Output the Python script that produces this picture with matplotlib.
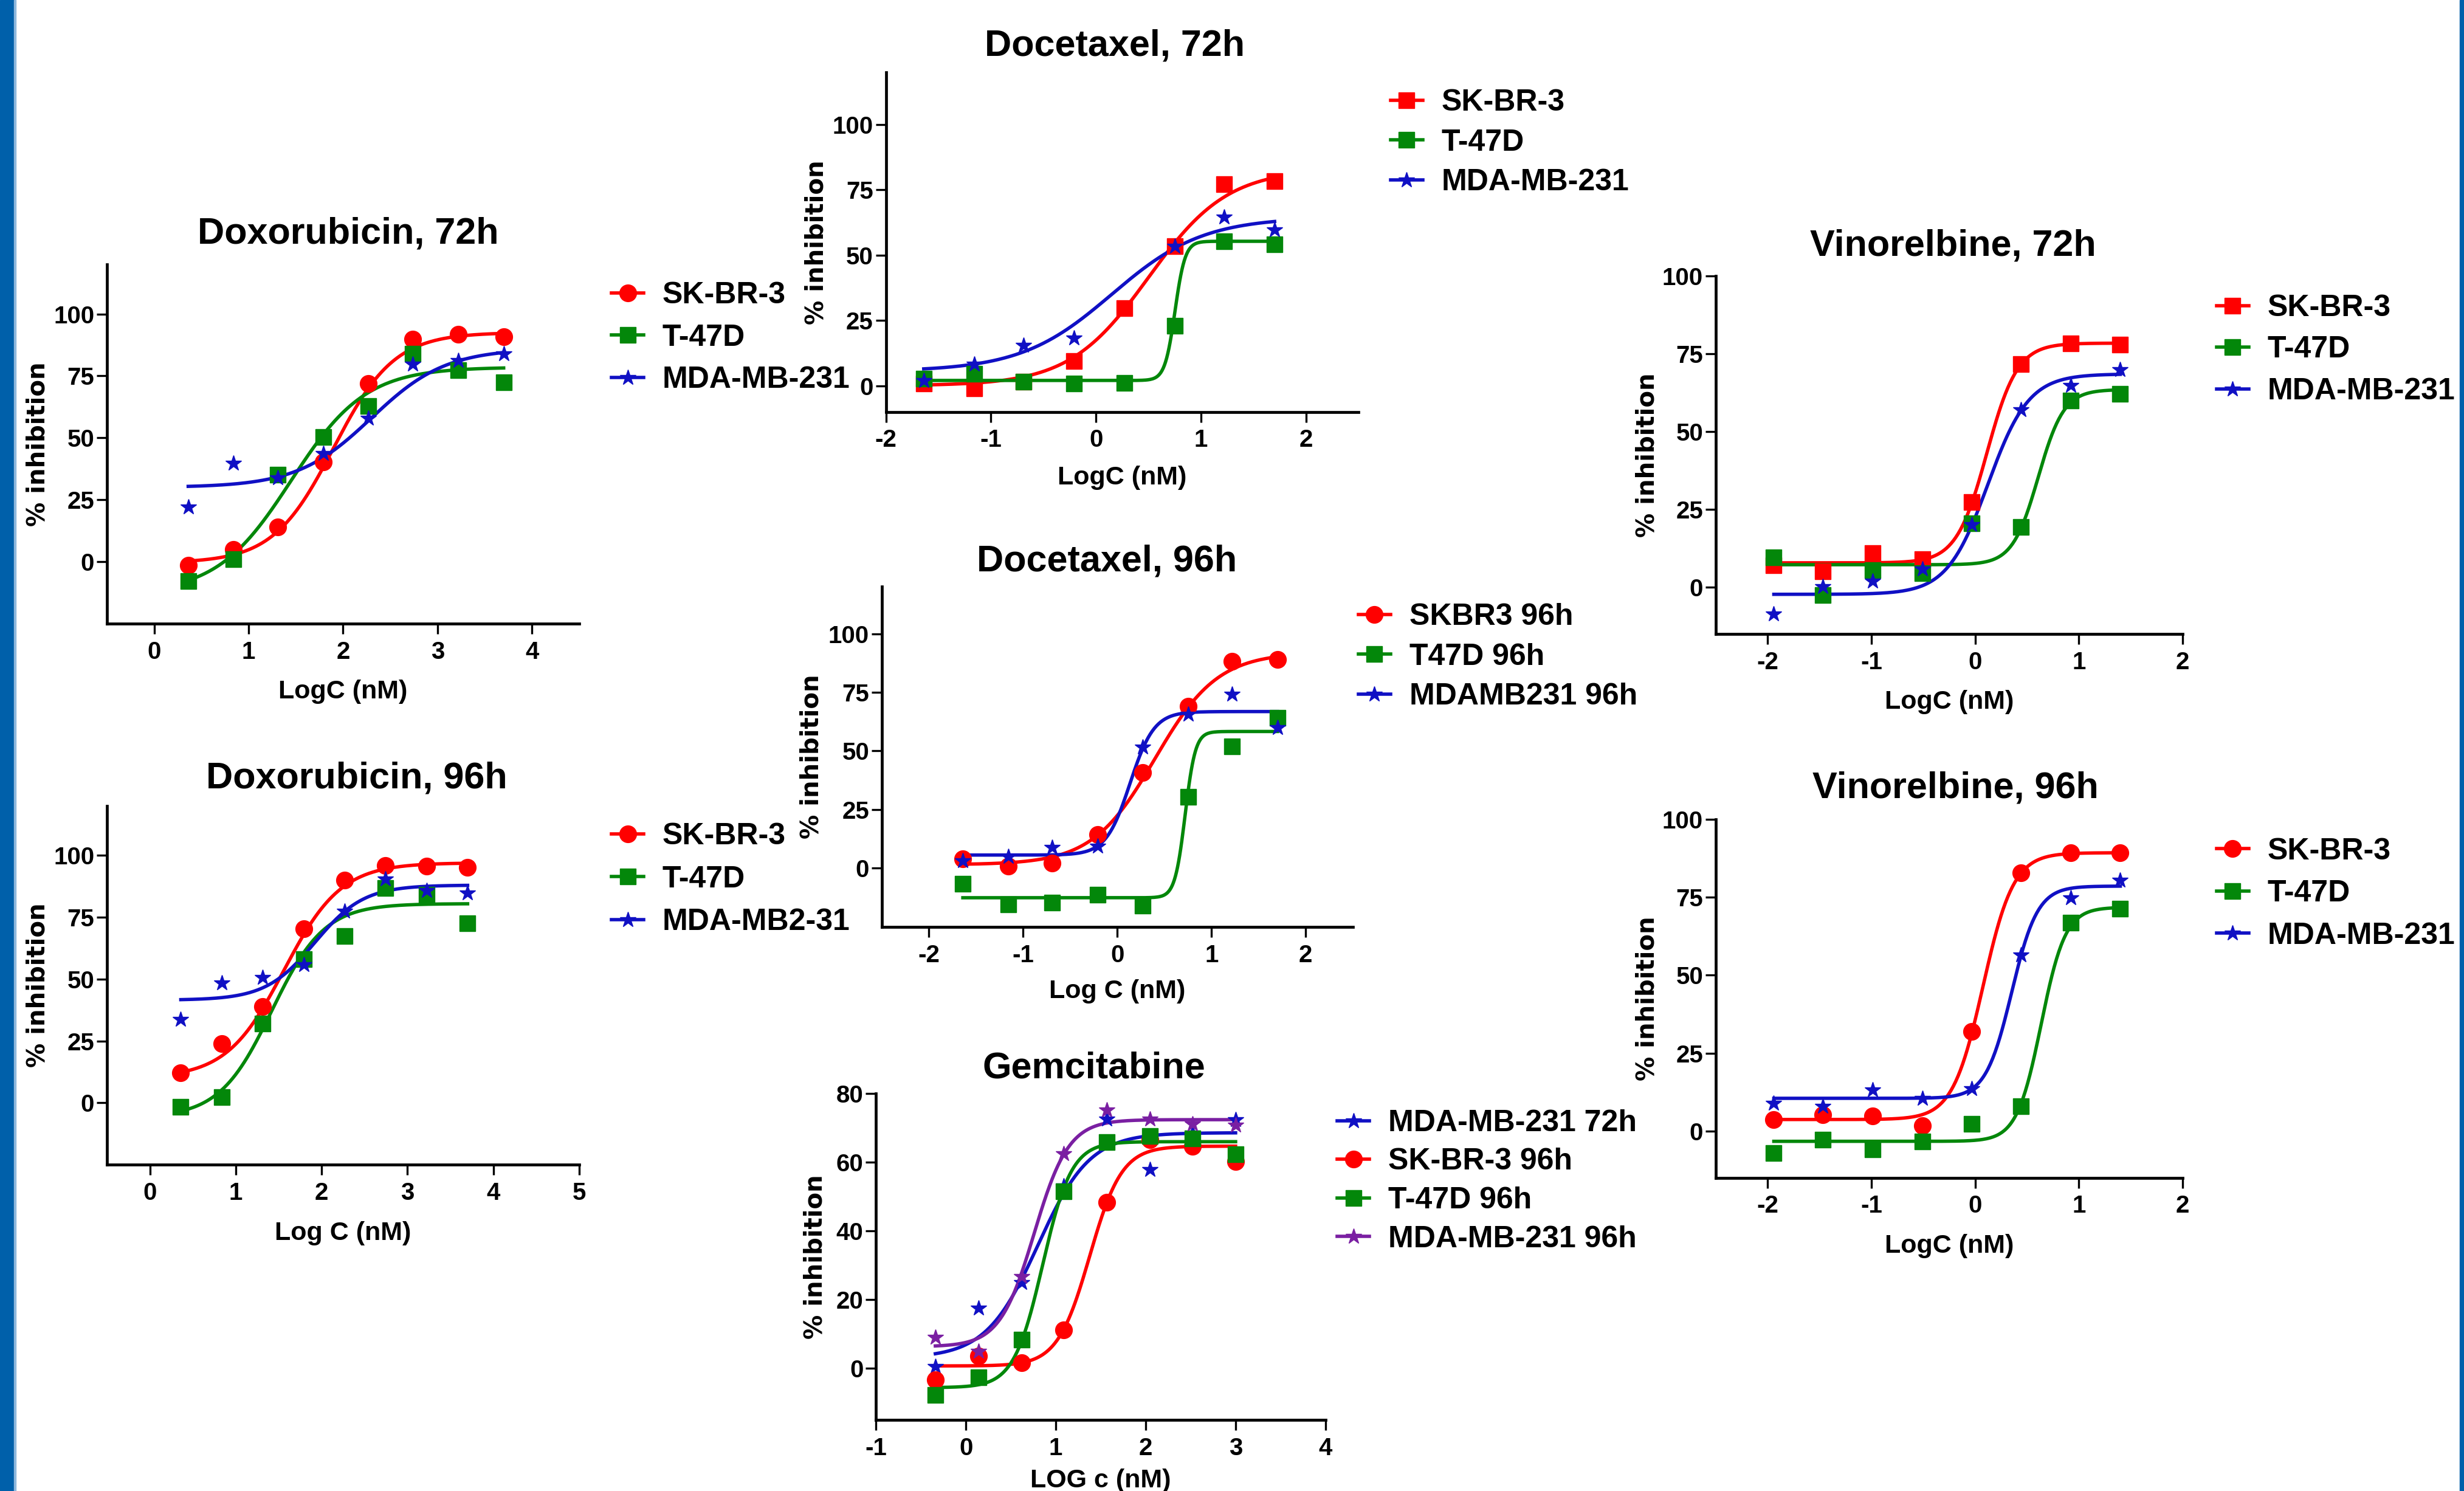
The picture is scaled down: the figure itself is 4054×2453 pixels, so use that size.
import numpy as np
import matplotlib
matplotlib.use("Agg")
import matplotlib.pyplot as plt
from matplotlib.lines import Line2D
from matplotlib.patches import Rectangle
import matplotlib.font_manager as fm

# ---------------- data ----------------
DOX_X = [0.36, 0.84, 1.31, 1.79, 2.27, 2.74, 3.22, 3.70]
DOC_X = [-1.64, -1.16, -0.69, -0.21, 0.27, 0.75, 1.22, 1.70]
GEM_X = [-0.34, 0.14, 0.62, 1.09, 1.57, 2.05, 2.52, 3.00]
VIN_X = [-1.94, -1.47, -0.99, -0.51, -0.03, 0.44, 0.92, 1.40]

dox72_sk = [-1.4, 4.9, 14.1, 40.3, 72.0, 89.7, 91.8, 90.8]
dox72_t47 = [-7.8, 1.0, 35.0, 50.4, 62.9, 84.0, 77.4, 72.5]
dox72_mda = [22.2, 39.8, 34.0, 43.8, 57.9, 79.8, 81.2, 84.0]

dox96_sk = [12.1, 23.8, 38.9, 70.4, 90.1, 96.0, 95.6, 95.3]
dox96_t47 = [-1.7, 2.3, 31.9, 58.0, 67.4, 86.9, 84.1, 72.5]
dox96_mda = [33.7, 48.5, 50.6, 55.9, 77.4, 90.4, 85.9, 84.8]

doc72_sk = [0.9, -1.0, 1.5, 9.4, 29.8, 53.4, 77.1, 78.3]
doc72_t47 = [2.8, 4.5, 1.5, 0.9, 1.1, 22.9, 55.3, 54.2]
doc72_mda = [2.1, 8.2, 15.4, 18.3, np.nan, 53.4, 64.5, 59.8]

doc96_sk = [3.9, 0.8, 2.1, 14.4, 40.7, 69.1, 88.1, 89.1]
doc96_t47 = [-6.6, -15.4, -14.6, -11.2, -16.0, 30.3, 52.0, 64.2]
doc96_mda = [3.2, 5.0, 8.8, 9.5, 51.6, 65.6, 74.1, 60.0]

gem_mda72 = [0.6, 17.5, 24.9, 53.0, 72.5, 57.8, 68.4, 72.3]
gem_sk96 = [-3.4, 3.6, 1.6, 11.1, 48.2, 66.5, 64.6, 60.1]
gem_t47_96 = [-7.7, -2.7, 8.4, 51.4, 65.7, 67.5, 66.8, 62.2]
gem_mda96 = [9.1, 5.0, 26.7, 62.5, 75.2, 72.5, 71.1, 70.7]

vin72_sk = [7.1, 5.1, 11.0, 9.1, 27.5, 71.7, 78.4, 77.9]
vin72_t47 = [9.6, -2.5, 5.6, 4.5, 20.6, 19.4, 59.9, 62.1]
vin72_mda = [-8.4, 0.3, 2.0, 6.0, 20.2, 57.1, 64.9, 70.0]

vin96_sk = [3.7, 5.2, 4.8, 1.8, 31.9, 82.9, 89.3, 89.3]
vin96_t47 = [-7.0, -2.8, -5.9, -3.4, 2.3, 7.9, 66.8, 71.3]
vin96_mda = [9.0, 8.0, 13.3, 10.5, 13.6, 56.6, 74.9, 80.5]

# fitted curve parameters [bottom, top, logEC50, hill]
fit_dox72 = {"sk": [-0.5, 92.5, 1.90, 1.35], "t47": [-13.0, 78.5, 1.45, 1.10], "mda": [30.0, 86.0, 2.30, 1.10]}
fit_dox96 = {"sk": [10.0, 97.0, 1.56, 1.30], "t47": [-6.0, 80.5, 1.42, 1.42], "mda": [41.5, 88.0, 1.92, 1.52]}
fit_doc72 = {"sk": [0.0, 83.0, 0.50, 1.15], "t47": [2.0, 55.3, 0.752, 9.0], "mda": [5.5, 64.5, 0.15, 1.0]}
fit_doc96 = {"sk": [1.5, 92.0, 0.40, 1.30], "t47": [-12.6, 58.3, 0.72, 8.0], "mda": [5.6, 66.8, 0.135, 3.4]}
fit_gem = {"mda72": [3.0, 68.5, 0.80, 1.5], "sk96": [0.7, 64.6, 1.377, 2.42],
           "t47_96": [-5.6, 65.9, 0.854, 2.7], "mda96": [6.3, 72.3, 0.76, 2.26]}
fit_vin72 = {"sk": [7.9, 78.4, 0.114, 2.94], "t47": [7.3, 63.5, 0.609, 3.5], "mda": [-2.2, 68.5, 0.124, 2.2]}
fit_vin96 = {"sk": [3.7, 89.3, 0.077, 2.95], "t47": [-3.3, 71.8, 0.637, 3.7], "mda": [10.5, 78.6, 0.353, 3.47]}

# ---------------- style ----------------
avail = {f.name for f in fm.fontManager.ttflist}
SANS = "Liberation Sans" if "Liberation Sans" in avail else "DejaVu Sans"
plt.rcParams["font.family"] = [SANS, "DejaVu Sans"]
plt.rcParams["font.weight"] = "bold"
plt.rcParams["axes.unicode_minus"] = False

RED = "#FF0000"
GREEN = "#03870A"
BLUE = "#1010C4"
PURPLE = "#7A1FA2"
MS = {"o": 20, "s": 19, "*": 19}
LW = 4.0

W, H, DPI = 4055, 2453, 100
fig = plt.figure(figsize=(W / DPI, H / DPI), dpi=DPI)
fig.patch.set_facecolor("white")
fig.patches.append(Rectangle((0, 0), 23 / W, 1, transform=fig.transFigure, color="#0060AA", zorder=0))
fig.patches.append(Rectangle((23 / W, 0), 3 / W, 1, transform=fig.transFigure, color="#8FB8DD", zorder=0))
fig.patches.append(Rectangle((4047 / W, 0), 8 / W, 1, transform=fig.transFigure, color="#0060AA", zorder=0))


def logistic(x, p):
    b, t, e, h = p
    return b + (t - b) / (1 + 10 ** ((e - x) * h))


def panel(rect, xlim, ylim, xticks, yticks, title, title_xy, xlabel, series,
          leg_xy, leg_pitch, ylab_off, xlab_off):
    l, r, t, b = rect
    ax = fig.add_axes([l / W, 1 - b / H, (r - l) / W, (b - t) / H])
    wpx, hpx = r - l, b - t
    for lab, col, mk, xs, ys, p in series:
        xs = np.asarray(xs, float)
        xx = np.linspace(xs.min(), xs.max(), 300)
        ax.plot(xx, logistic(xx, p), color=col, lw=LW, zorder=2, clip_on=False)
        ax.plot(xs, ys, ls="none", marker=mk, ms=MS[mk], color=col, mec=col, zorder=3, clip_on=False)
    ax.set_xlim(*xlim)
    ax.set_ylim(*ylim)
    ax.set_xticks(xticks)
    ax.set_yticks(yticks)
    ax.set_xticklabels([str(v) for v in xticks])
    ax.set_yticklabels([str(v) for v in yticks])
    for s in ["top", "right"]:
        ax.spines[s].set_visible(False)
    for s in ["left", "bottom"]:
        ax.spines[s].set_linewidth(3.4)
    ax.tick_params(axis="both", length=12, width=2.4, labelsize=29)
    ax.tick_params(axis="x", pad=8)
    ax.tick_params(axis="y", pad=3)
    for lbl in ax.get_xticklabels() + ax.get_yticklabels():
        lbl.set_fontweight("bold")
    ax.set_facecolor("none")
    # title
    tx, ty = title_xy
    ax.text((tx - l) / wpx, (b - (ty + 21)) / hpx, title, transform=ax.transAxes,
            ha="center", va="baseline", fontsize=44, fontweight="bold")
    # labels
    ax.set_xlabel(xlabel, fontsize=31, fontweight="bold")
    ax.xaxis.label.set_va("center")
    ax.xaxis.set_label_coords(0.5, -xlab_off / hpx)
    ax.set_ylabel("% inhibition", fontsize=29, fontweight="bold", family="DejaVu Sans")
    ax.yaxis.label.set_va("center")
    ax.yaxis.set_label_coords(-ylab_off / wpx, 0.5)
    # legend
    handles = [Line2D([], [], color=c, lw=LW, marker=m, ms=MS[m], mec=c) for _, c, m, _, _, _ in series]
    labels = [s[0] for s in series]
    F = 50.0
    lx, ly = leg_xy
    ls = (leg_pitch - 0.89 * F) / F
    ax.legend(handles, labels, loc="upper left",
              bbox_to_anchor=(lx / W, 1 - (ly - 17) / H), bbox_transform=fig.transFigure,
              frameon=False, borderpad=0, borderaxespad=0, handlelength=1.06,
              handletextpad=0.62, labelspacing=ls, numpoints=1,
              prop={"family": SANS, "weight": "bold", "size": 36})
    return ax


panel((176, 953, 435, 1026), (-0.5, 4.5), (-25, 120), [0, 1, 2, 3, 4], [0, 25, 50, 75, 100],
      "Doxorubicin, 72h", (573, 380), "LogC (nM)",
      [("SK-BR-3", RED, "o", DOX_X, dox72_sk, fit_dox72["sk"]),
       ("T-47D", GREEN, "s", DOX_X, dox72_t47, fit_dox72["t47"]),
       ("MDA-MB-231", BLUE, "*", DOX_X, dox72_mda, fit_dox72["mda"])],
      (1006, 480), 68, 113, 112)

panel((176, 953, 1326, 1916), (-0.5, 5), (-25, 120), [0, 1, 2, 3, 4, 5], [0, 25, 50, 75, 100],
      "Doxorubicin, 96h", (587, 1275), "Log C (nM)",
      [("SK-BR-3", RED, "o", DOX_X, dox96_sk, fit_dox96["sk"]),
       ("T-47D", GREEN, "s", DOX_X, dox96_t47, fit_dox96["t47"]),
       ("MDA-MB2-31", BLUE, "*", DOX_X, dox96_mda, fit_dox96["mda"])],
      (1006, 1370), 69, 113, 113)

panel((1457.6, 2235.4, 119, 677.5), (-2, 2.5), (-10, 120), [-2, -1, 0, 1, 2], [0, 25, 50, 75, 100],
      "Docetaxel, 72h", (1834, 70.5), "LogC (nM)",
      [("SK-BR-3", RED, "s", DOC_X, doc72_sk, fit_doc72["sk"]),
       ("T-47D", GREEN, "s", DOC_X, doc72_t47, fit_doc72["t47"]),
       ("MDA-MB-231", BLUE, "*", DOC_X, doc72_mda, fit_doc72["mda"])],
      (2288, 163), 64, 114, 108)

panel((1450.9, 2225.8, 965.4, 1524.8), (-2.5, 2.5), (-25, 120), [-2, -1, 0, 1, 2], [0, 25, 50, 75, 100],
      "Docetaxel, 96h", (1821, 918), "Log C (nM)",
      [("SKBR3 96h", RED, "o", DOC_X, doc96_sk, fit_doc96["sk"]),
       ("T47D 96h", GREEN, "s", DOC_X, doc96_t47, fit_doc96["t47"]),
       ("MDAMB231 96h", BLUE, "*", DOC_X, doc96_mda, fit_doc96["mda"])],
      (2235, 1009), 64, 115, 106)

panel((1441.3, 2180.8, 1798.5, 2336.1), (-1, 4), (-15, 80), [-1, 0, 1, 2, 3, 4], [0, 20, 40, 60, 80],
      "Gemcitabine", (1800, 1752), "LOG c (nM)",
      [("MDA-MB-231 72h", BLUE, "*", GEM_X, gem_mda72, fit_gem["mda72"]),
       ("SK-BR-3 96h", RED, "o", GEM_X, gem_sk96, fit_gem["sk96"]),
       ("T-47D 96h", GREEN, "s", GEM_X, gem_t47_96, fit_gem["t47_96"]),
       ("MDA-MB-231 96h", PURPLE, "*", GEM_X, gem_mda96, fit_gem["mda96"])],
      (2200, 1842), 62, 100, 100)

panel((2822.9, 3590.9, 453.8, 1043.4), (-2.5, 2), (-15, 100), [-2, -1, 0, 1, 2], [0, 25, 50, 75, 100],
      "Vinorelbine, 72h", (3213, 400), "LogC (nM)",
      [("SK-BR-3", RED, "s", VIN_X, vin72_sk, fit_vin72["sk"]),
       ("T-47D", GREEN, "s", VIN_X, vin72_t47, fit_vin72["t47"]),
       ("MDA-MB-231", BLUE, "*", VIN_X, vin72_mda, fit_vin72["mda"])],
      (3647, 501), 67, 112, 112)

panel((2822.9, 3590.9, 1348.1, 1937.7), (-2.5, 2), (-15, 100), [-2, -1, 0, 1, 2], [0, 25, 50, 75, 100],
      "Vinorelbine, 96h", (3217, 1292), "LogC (nM)",
      [("SK-BR-3", RED, "o", VIN_X, vin96_sk, fit_vin96["sk"]),
       ("T-47D", GREEN, "s", VIN_X, vin96_t47, fit_vin96["t47"]),
       ("MDA-MB-231", BLUE, "*", VIN_X, vin96_mda, fit_vin96["mda"])],
      (3647, 1395), 68, 112, 112)

fig.savefig("out.png", dpi=DPI, facecolor="white")
